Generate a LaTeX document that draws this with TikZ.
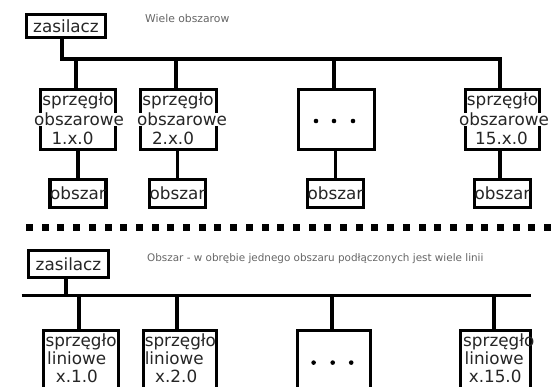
\documentclass[tikz,border=0pt]{standalone}
\usepackage{fontspec}
\setmainfont{DejaVu Sans}
\tikzset{
  wire/.style={line width=3.3pt, line join=miter},
  box/.style={draw, line width=3.3pt, inner sep=0pt, font=\fontsize{16.8}{20}\selectfont, text=black!85},
  txt/.style={font=\fontsize{16.8}{20}\selectfont, text=black!85, inner sep=0pt, anchor=base},
  txtw/.style={txt, fill=white},
  txtl/.style={txt, anchor=base west},
  note/.style={font=\fontsize{10.4}{12}\selectfont, text=black!60, inner sep=0pt, anchor=base west},
}
\begin{document}
\begin{tikzpicture}[x=1pt, y=-1pt]
\useasboundingbox (0,0) rectangle (557,387);
\clip (0,0) rectangle (557,387);
\fill[white] (0,0) rectangle (557,387);

% ---------- top part ----------
\node[box, minimum width=79pt, minimum height=23pt] (z1) at (66,26) {zasilacz};
\node[note, font=\fontsize{10.8}{12}\selectfont] (n1) at (145,23) {Wiele obszarow};

\node[box, minimum width=75pt, minimum height=60pt] (t1) at (78,119.5) {};
\node[box, minimum width=76pt, minimum height=60pt] (t2) at (178.5,119.5) {};
\node[box, minimum width=76pt, minimum height=60pt] (t3) at (336.5,119.5) {};
\node[box, minimum width=74pt, minimum height=60pt] (t4) at (502.5,119.5) {};

\node[txtw] (t1a) at (78,106) {sprzęgło};
\node[txtw] (t1b) at (79,126) {obszarowe};
\node[txtw] (t1c) at (72.5,145) {1.x.0};
\node[txtw] (t2a) at (178,106) {sprzęgło};
\node[txtw] (t2b) at (182,126) {obszarowe};
\node[txtw] (t2c) at (173,145) {2.x.0};
\node[txtw] (t4a) at (502.5,106) {sprzęgło};
\node[txtw] (t4b) at (504,126) {obszarowe};
\node[txtw] (t4c) at (501.5,145) {15.x.0};
\foreach \x in {316,334,353} \fill (\x,121) circle (2.3pt);

\node[box, minimum width=55pt, minimum height=28pt] (o1) at (78,193.5) {obszar};
\node[box, minimum width=56pt, minimum height=28pt] (o2) at (177.5,193.5) {obszar};
\node[box, minimum width=56pt, minimum height=28pt] (o3) at (335.5,193.5) {obszar};
\node[box, minimum width=56pt, minimum height=28pt] (o4) at (502.5,193.5) {obszar};

\coordinate (bt0) at (62,59);
\coordinate (bt1) at (76,59);
\coordinate (bt2) at (176,59);
\coordinate (bt3) at (334,59);
\coordinate (bt4) at (500,59);
\draw[wire] (z1.south -| bt0) -- (bt0) -- (bt4) -- (bt4 |- t4.north);
\draw[wire] (bt1) -- (bt1 |- t1.north);
\draw[wire] (bt2) -- (bt2 |- t2.north);
\draw[wire] (bt3) -- (bt3 |- t3.north);
\draw[wire] (t1.south -| o1.north) -- (o1.north);
\draw[wire] (t2.south -| o2.north) -- (o2.north);
\draw[wire] (t3.south -| o3.north) -- (o3.north);
\draw[wire] (t4.south -| bt4) -- (o4.north -| bt4);

% ---------- separator ----------
\foreach \i in {0,...,33} \fill ({29.5+15.7*\i-3.5},224) rectangle ++(7,7);

% ---------- bottom part ----------
\node[box, minimum width=80pt, minimum height=27pt] (z2) at (68.5,264) {zasilacz};
\node[note] (n2) at (147,262) {Obszar - w obrębie jednego obszaru podłączonych jest wiele linii};

\node[box, minimum width=74.5pt, minimum height=58.5pt] (b1) at (81,359.75) {};
\node[box, minimum width=73pt, minimum height=58.5pt] (b2) at (180,359.75) {};
\node[box, minimum width=73pt, minimum height=58.5pt] (b3) at (334,359.75) {};
\node[box, minimum width=70pt, minimum height=58.5pt] (b4) at (495.5,359.75) {};

\node[txtl] (b1a) at (45.3,347) {sprzęgło};
\node[txtl] (b1b) at (47,364.5) {liniowe};
\node[txtl] (b1c) at (55.7,382) {x.1.0};
\node[txtl] (b2a) at (144.6,347) {sprzęgło};
\node[txtl] (b2b) at (144.6,364.5) {liniowe};
\node[txtl] (b2c) at (155,382) {x.2.0};
\node[txtl] (b4a) at (463,347) {sprzęgło};
\node[txtl] (b4b) at (464.5,364.5) {liniowe};
\node[txtl] (b4c) at (468.6,382) {x.15.0};
\foreach \x in {313.6,332.7,351.2} \fill (\x,362.6) circle (2.3pt);

\coordinate (bb0) at (66,295.7);
\coordinate (bbL) at (21.6,295.7);
\coordinate (bbR) at (531,295.7);
\coordinate (bb1) at (79,295.7);
\coordinate (bb2) at (177,295.7);
\coordinate (bb3) at (332,295.7);
\coordinate (bb4) at (494,295.7);
\draw[wire] (z2.south -| bb0) -- (bb0);
\draw[wire] (bbL) -- (bbR);
\draw[wire] (bb1) -- (bb1 |- b1.north);
\draw[wire] (bb2) -- (bb2 |- b2.north);
\draw[wire] (bb3) -- (bb3 |- b3.north);
\draw[wire] (bb4) -- (bb4 |- b4.north);
\end{tikzpicture}
\end{document}
